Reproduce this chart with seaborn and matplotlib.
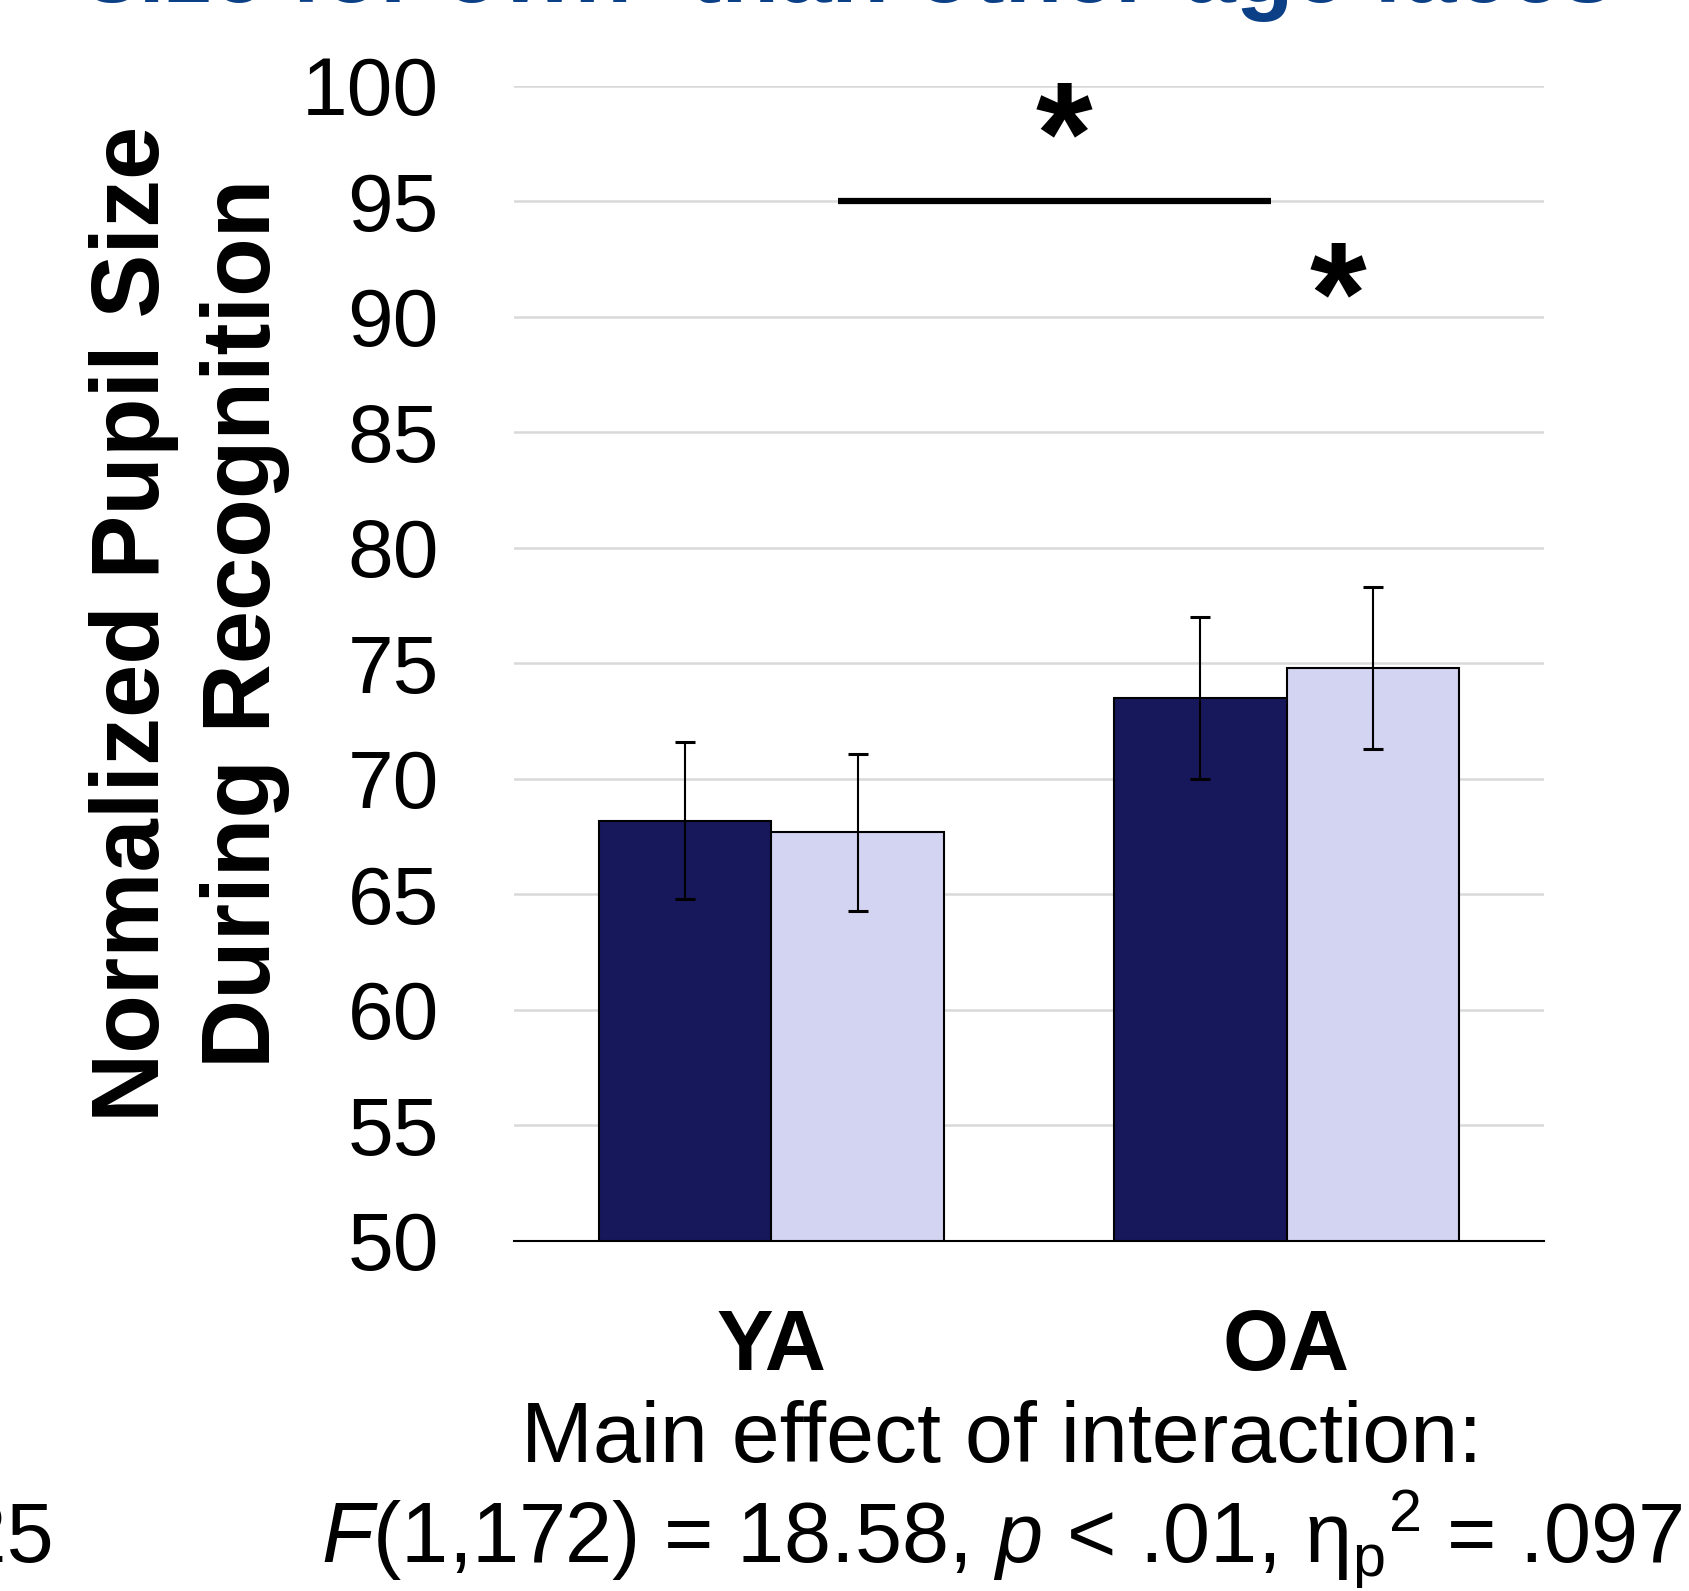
import matplotlib
matplotlib.use("Agg")
import matplotlib.pyplot as plt
import seaborn as sns
import pandas as pd

# values
groups = ["YA", "OA"]
conditions = ["own", "other"]
means_own = [68.2, 73.5]
means_other = [67.7, 74.8]
err_own = [3.4, 3.5]
err_other = [3.4, 3.5]
colors = ["#17175b", "#d3d3f2"]

sns.set_style("white")
narrow = ["Liberation Sans Narrow", "Liberation Sans", "DejaVu Sans"]
plt.rcParams["font.family"] = ["Liberation Sans", "DejaVu Sans"]
plt.rcParams["text.color"] = "black"
plt.rcParams["xtick.color"] = "black"
plt.rcParams["ytick.color"] = "black"
plt.rcParams["mathtext.fontset"] = "custom"
plt.rcParams["mathtext.rm"] = "Liberation Sans"
plt.rcParams["mathtext.it"] = "Liberation Sans:italic"

df = pd.DataFrame({
    "group": groups * 2,
    "condition": [conditions[0]] * 2 + [conditions[1]] * 2,
    "value": means_own + means_other,
})

fig = plt.figure(figsize=(16.89, 15.91), dpi=100)
ax = fig.add_axes([0.3043, 0.22, 0.6099, 0.726])

sns.barplot(data=df, x="group", y="value", hue="condition", order=groups,
            hue_order=conditions, palette=colors, saturation=1, width=0.67,
            errorbar=None, edgecolor="black", linewidth=1.5, legend=False,
            ax=ax, zorder=3)

# error bars centred on each bar
for cont, errs in zip(ax.containers, [err_own, err_other]):
    xs = [p.get_x() + p.get_width() / 2 for p in cont]
    ys = [p.get_height() + p.get_y() for p in cont]
    ax.errorbar(xs, ys, yerr=errs, fmt="none", ecolor="black",
                elinewidth=1.5, capsize=7.5, capthick=2.2, zorder=4)

ax.set_ylim(50, 100)
ax.set_xlim(-0.5, 1.5)
ax.set_yticks(range(50, 101, 5))
ax.yaxis.grid(True, color="#d9d9d9", linewidth=1.8, zorder=0)
ax.set_axisbelow(True)
for s in ["top", "right", "left"]:
    ax.spines[s].set_visible(False)
ax.spines["bottom"].set_color("black")
ax.spines["bottom"].set_linewidth(1.5)
ax.spines["bottom"].set_zorder(5)
ax.tick_params(axis="y", length=0, pad=54, labelsize=59)
ax.tick_params(axis="x", length=0, pad=48, labelsize=61)
for t in ax.get_xticklabels():
    t.set_fontweight("bold")
ax.set_xlabel("")
ax.set_ylabel("")

# significance markers
ax.plot([0.13, 0.97], [95, 95], color="black", linewidth=4.5, solid_capstyle="butt")
ax.text(0.567, 97.43, "*", ha="center", va="center", fontsize=105, fontweight="bold")
ax.text(1.10, 90.48, "*", ha="center", va="center", fontsize=105, fontweight="bold")

fig.text(0.1122, 0.608, "Normalized Pupil Size\nDuring Recognition", rotation=90,
         ha="center", va="center", fontsize=69, fontweight="bold",
         family=narrow, linespacing=1.29)

fig.text(0.593, 1 - 1462 / 1591, "Main effect of interaction:", ha="center",
         va="baseline", fontsize=62, family=narrow)
fig.text(0.593, 1 - 1562 / 1591,
         r"$\it{F}$(1,172) = 18.58, $\it{p}$ < .01, η$_\mathrm{p}$$^\mathrm{2}$ = .097",
         ha="center", va="baseline", fontsize=61, family=narrow)
fig.text(54 / 1689, 1 - 1562 / 1591, "= .025", ha="right", va="baseline",
         fontsize=61, family=narrow)

# cut-off title at the very top
fig.text(0.503, 1 - 2 / 1591, "size for own- than other-age faces", ha="center",
         va="baseline", fontsize=68, fontweight="bold", color="#0b3f86", family=narrow)

fig.savefig("out.png", dpi=100)
